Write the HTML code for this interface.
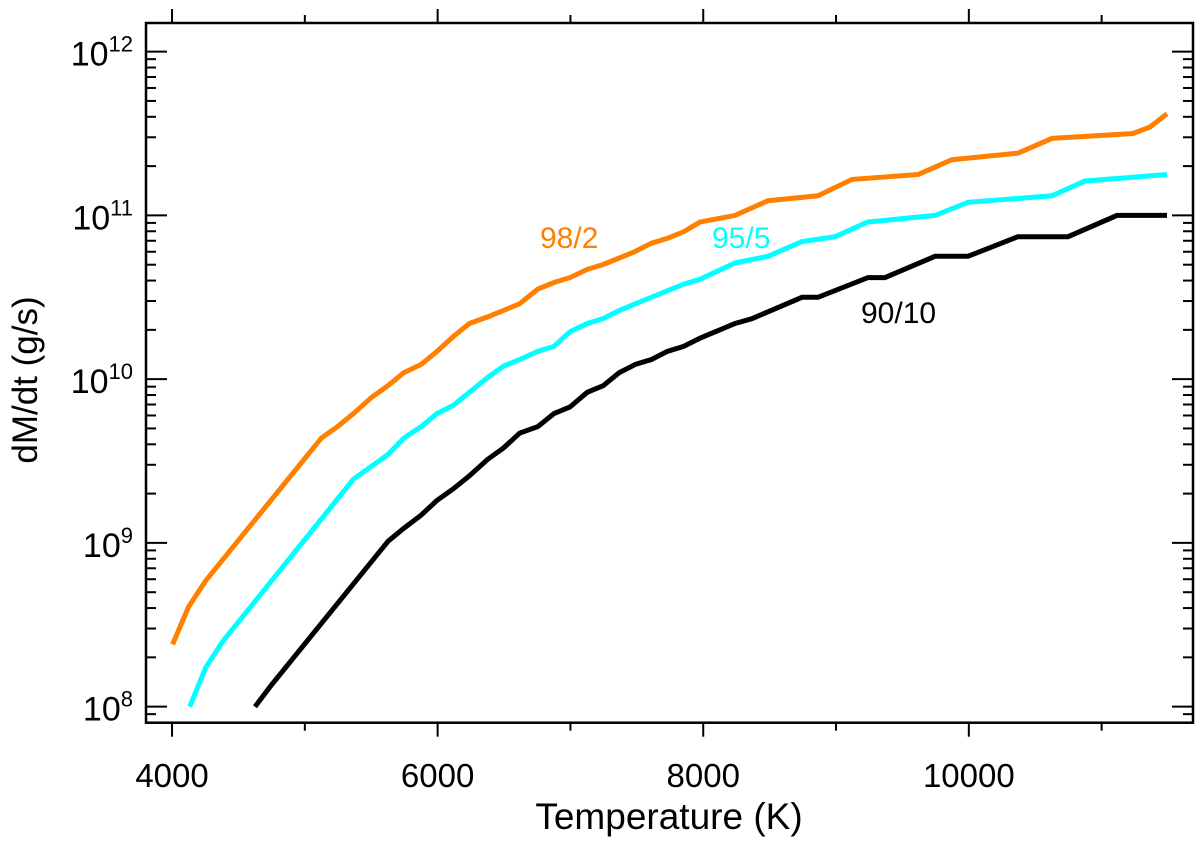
<!DOCTYPE html>
<html><head><meta charset="utf-8"><style>
html,body{margin:0;padding:0;background:#fff;}
svg{display:block;font-family:"Liberation Sans",Arial,sans-serif;}
</style></head><body>
<svg id="chart" width="1200" height="845" viewBox="0 0 1200 845" xmlns="http://www.w3.org/2000/svg"></svg>
<script>
// Data (temperature in K, log10 of dM/dt in g/s)
const temp982 = [4004,4125,4254,5125,5246,5367,5504,5626,5746,5876,5996,6117,6239,6376,6497,6617,6755,6876,6997,7126,7247,7368,7489,7610,7731,7852,7976,8240,8488,8864,9120,9617,9873,10370,10626,11236,11364,11492];
const log982 = [8.38,8.61,8.77,9.64,9.71,9.79,9.89,9.96,10.04,10.09,10.17,10.26,10.34,10.38,10.42,10.46,10.55,10.59,10.62,10.67,10.70,10.74,10.78,10.83,10.86,10.90,10.96,11.00,11.09,11.12,11.22,11.25,11.34,11.38,11.47,11.50,11.54,11.62];
const temp955 = [4133,4254,4383,5367,5488,5626,5746,5876,5996,6117,6239,6376,6497,6617,6755,6876,6997,7126,7247,7368,7489,7610,7731,7852,7976,8240,8488,8744,8992,9241,9745,9994,10626,10875,11492];
const log955 = [8.00,8.24,8.40,9.39,9.46,9.54,9.64,9.71,9.79,9.84,9.92,10.01,10.08,10.12,10.17,10.20,10.29,10.34,10.37,10.42,10.46,10.50,10.54,10.58,10.61,10.71,10.75,10.84,10.87,10.96,11.00,11.08,11.12,11.21,11.25];
const temp9010 = [4625,4746,5626,5746,5876,5996,6117,6239,6376,6497,6617,6755,6876,6997,7126,7247,7368,7489,7610,7731,7852,7976,8240,8368,8744,8864,9241,9369,9745,9994,10370,10747,11116,11492];
const log9010 = [8.00,8.13,9.01,9.09,9.17,9.26,9.33,9.41,9.51,9.58,9.67,9.71,9.79,9.83,9.92,9.96,10.04,10.09,10.12,10.17,10.20,10.25,10.34,10.37,10.50,10.50,10.62,10.62,10.75,10.75,10.87,10.87,11.00,11.00];
const xTickValues = [4000,6000,8000,10000];
const xTickLabels = ["4000","6000","8000","10000"];
const yTickExponents = [8,9,10,11,12];

const NS = "http://www.w3.org/2000/svg";
const svg = document.getElementById('chart');
const L=146, R=1193, T=23, B=722.7;
const X0=3804, X1=11688, Y0=7.902, Y1=12.175;
function xs(v){return L+(v-X0)/(X1-X0)*(R-L);}
function ys(lv){return B-(lv-Y0)/(Y1-Y0)*(B-T);}
function mk(tag, attrs){const e=document.createElementNS(NS,tag);for(const k in attrs)e.setAttribute(k,attrs[k]);svg.appendChild(e);return e;}

for(let v=4000; v<=11000; v+=1000){
  const major = (v%2000===0);
  const len = major?14:8;
  const x = xs(v);
  const t1 = mk('line',{x1:x,y1:B,x2:x,y2:B+len,stroke:'#000','stroke-width':2});
  
  
  const t2 = mk('line',{x1:x,y1:T,x2:x,y2:T-len,stroke:'#000','stroke-width':2});
  
  
}
xTickValues.forEach((v,i)=>{
  const t = mk('text',{x:xs(v),y:787,'text-anchor':'middle','font-size':33,fill:'#000'});
  t.textContent = xTickLabels[i];
  
  
});
for(let e=7; e<=12; e++){
  for(let m=1; m<=9; m++){
    const lv = e+Math.log10(m);
    if(lv<Y0||lv>Y1) continue;
    const len = m===1?21:10;
    const y = ys(lv);
    const a = mk('line',{x1:L,y1:y,x2:L+len,y2:y,stroke:'#000','stroke-width':2});
    
    
    const b = mk('line',{x1:R,y1:y,x2:R-len,y2:y,stroke:'#000','stroke-width':2});
    
    
  }
}
yTickExponents.forEach(e=>{
  const t = mk('text',{x:133,y:ys(e)+14,'text-anchor':'end','font-size':34,fill:'#000'});
  const s1 = document.createElementNS(NS,'tspan'); s1.textContent='10'; t.appendChild(s1);
  const s2 = document.createElementNS(NS,'tspan'); s2.setAttribute('font-size','22'); s2.setAttribute('dy','-14'); s2.textContent=String(e); t.appendChild(s2);
  
  
});
const fr = mk('rect',{x:L,y:T,width:R-L,height:B-T,fill:'none',stroke:'#000','stroke-width':2.5});


function series(tx, ly, color, name){
  const d = tx.map((v,i)=>(i?'L':'M')+xs(v).toFixed(1)+','+ys(ly[i]).toFixed(1)).join(' ');
  const p = mk('path',{d:d,fill:'none',stroke:color,'stroke-width':5,'stroke-linejoin':'miter'});
  
  
}
series(temp982, log982, '#ff8000', 'line-98-2');
series(temp955, log955, '#00ffff', 'line-95-5');
series(temp9010, log9010, '#000000', 'line-90-10');
function label(txt,x,y,color,name,size,anchor){
  const t = mk('text',{x:x,y:y,'font-size':size||30,fill:color,'text-anchor':anchor||'start'});
  t.textContent=txt;
  
  
}
label('98/2',540,248,'#ff8000','label-98-2');
label('95/5',712,248,'#00ffff','label-95-5');
label('90/10',861,323,'#000','label-90-10');
label('Temperature (K)',669,829,'#000','x-axis-title',37,'middle');
const yt = mk('text',{x:0,y:0,'font-size':35,fill:'#000','text-anchor':'middle',transform:'translate(37,380) rotate(-90)'});
yt.textContent='dM/dt (g/s)';


</script>
</body></html>
